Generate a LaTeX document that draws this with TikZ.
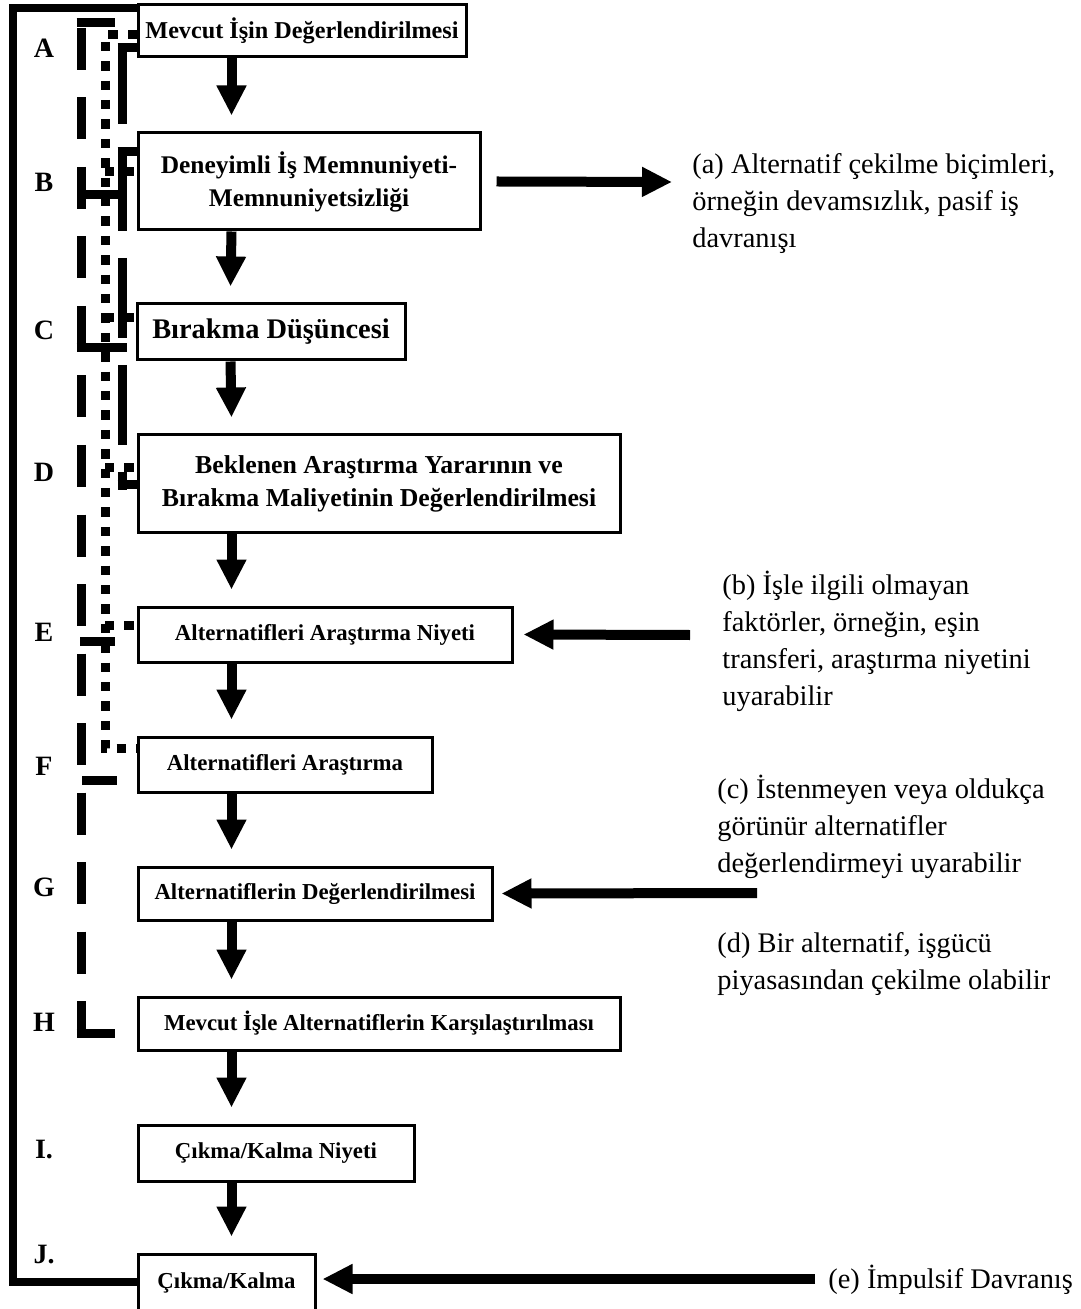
\documentclass[tikz,border=0pt]{standalone}
\usepackage{fontspec}
\setmainfont{Liberation Serif}
\usetikzlibrary{arrows.meta}
\tikzset{
  stagebox/.style={draw=black,line width=1.5pt,inner sep=0pt,align=center},
  boxtext/.style={font=\bfseries\fontsize{#1}{16.5}\selectfont},
  flowarrow/.style={line width=5pt,-{Triangle[width=14pt,length=15pt]}},
  railline/.style={line width=4pt},
  longdash/.style={line width=4.5pt,dash pattern=on 21pt off 13.75pt},
  midrail/.style={line width=4.5pt,dash pattern=on 40pt off 13.5pt},
  dotrail/.style={line width=4.5pt,dash pattern=on 4.7pt off 5pt},
  railtick/.style={line width=4.5pt},
  steplabel/.style={font=\bfseries\fontsize{14}{16}\selectfont,inner sep=0pt},
  sidenote/.style={anchor=north west,inner sep=0pt,align=left,font=\fontsize{14.2}{18.5}\selectfont},
}
\begin{document}
\begin{tikzpicture}[x=0.5pt,y=-0.5pt]
  \useasboundingbox (0,0) rectangle (1080,1309);
  % stages
  \node[stagebox,boxtext=12.1,minimum width=164pt,minimum height=26pt] (mevcut) at (302,31) {Mevcut İşin Değerlendirilmesi};
  \node[stagebox,boxtext=12.7,minimum width=171pt,minimum height=48.5pt] (deneyim) at (309,181.5) {Deneyimli İş Memnuniyeti-\\Memnuniyetsizliği};
  \node[stagebox,boxtext=14.2,minimum width=134pt,minimum height=28pt] (birakma) at (271,332) {Bırakma Düşüncesi};
  \node[stagebox,boxtext=12.9,minimum width=241pt,minimum height=48.5pt] (beklenen) at (379,483.5) {Beklenen Araştırma Yararının ve\\Bırakma Maliyetinin Değerlendirilmesi};
  \node[stagebox,boxtext=11.4,minimum width=187pt,minimum height=27.5pt] (arniyet) at (325,634.5) {Alternatifleri Araştırma Niyeti};
  \node[stagebox,boxtext=11.4,minimum width=147pt,minimum height=27.5pt] (arastir) at (285,764.5) {Alternatifleri Araştırma};
  \node[stagebox,boxtext=11.4,minimum width=177pt,minimum height=26.5pt] (degerlen) at (315,893.5) {Alternatiflerin Değerlendirilmesi};
  \node[stagebox,boxtext=11.4,minimum width=241pt,minimum height=26.5pt] (karsilas) at (379,1023.5) {Mevcut İşle Alternatiflerin Karşılaştırılması};
  \node[stagebox,boxtext=11.4,minimum width=138pt,minimum height=28pt] (kalniyet) at (276,1153) {Çıkma/Kalma Niyeti};
  \node[stagebox,boxtext=11.4,minimum width=88.5pt,minimum height=29pt] (cikma) at (226.5,1283) {Çıkma/Kalma};
  % step letters
  \node[steplabel] (la) at (44,48) {A};
  \node[steplabel] (lb) at (44,182) {B};
  \node[steplabel] (lc) at (44,330) {C};
  \node[steplabel] (ld) at (44,472) {D};
  \node[steplabel] (le) at (44,632) {E};
  \node[steplabel] (lf) at (44,766) {F};
  \node[steplabel] (lg) at (44,887) {G};
  \node[steplabel] (lh) at (44,1022) {H};
  \node[steplabel] (li) at (44,1150) {I.};
  \node[steplabel] (lj) at (44,1255) {J.};
  % main flow
  \foreach \from/\to in {mevcut/deneyim,deneyim/birakma,birakma/beklenen,beklenen/arniyet,arniyet/arastir,arastir/degerlen,degerlen/karsilas,karsilas/kalniyet,kalniyet/cikma}
    \draw[flowarrow] ([xshift=47.5pt]\from.south west) -- ([xshift=47.5pt,yshift=8pt]\to.north west);
  % side notes
  \node[sidenote] (nota) at (692,153) {(a) Alternatif çekilme biçimleri,\\örneğin devamsızlık, pasif iş\\davranışı};
  \node[sidenote] (notb) at (722,571) {(b) İşle ilgili olmayan\\faktörler, örneğin, eşin\\transferi, araştırma niyetini\\uyarabilir};
  \node[sidenote] (notc) at (717,775) {(c) İstenmeyen veya oldukça\\görünür alternatifler\\değerlendirmeyi uyarabilir};
  \node[sidenote] (notd) at (717,932) {(d) Bir alternatif, işgücü\\piyasasından çekilme olabilir};
  \node[sidenote,anchor=west] (note) at (828,1280) {(e) İmpulsif Davranış};
  \coordinate (heada) at (672,182);
  \coordinate (tailb) at (690,635);
  \coordinate (tailc) at (757,893);
  \coordinate (taile) at (815,1279);
  \draw[flowarrow] ([xshift=7.5pt]deneyim.east) -- (heada);
  \draw[flowarrow] (tailb) -- ([xshift=5pt]arniyet.east);
  \draw[flowarrow] (tailc) -- ([xshift=4pt]degerlen.east);
  \draw[flowarrow] (taile) -- ([xshift=3pt]cikma.east |- taile);
  % outer solid rail A..J
  \coordinate (railtop) at (13,8);
  \coordinate (railbot) at (13,1282);
  \draw[railline] (railtop -| mevcut.west) -- (railtop) -- (railbot) -- (railbot -| cikma.west);
  % long dashed rail
  \draw[longdash] (81,28) -- (81,1037);
  \draw[railtick] (76.5,23) -- (115,23);
  \draw[railtick] (81,195) -- (122,195);
  \draw[railtick] (76.5,347.5) -- (126.5,347.5);
  \draw[railtick] (80,641) -- (115,641);
  \draw[railtick] (82,780) -- (117,780);
  \draw[railtick] (76.5,1033) -- (115,1033);
  % middle dashed rail
  \draw[midrail] (122,44) -- (122,490);
  \draw[railtick] (117.5,48) -- (137,48);
  \draw[railtick] (117.5,152) -- (137,152);
  \draw[railtick] (117.5,485) -- (137,485);
  % dotted rail
  \draw[dotrail] (137,35) -- (105,35) -- (105,748) -- (137,748);
  \foreach \y in {172,318,468,625}
    \draw[dotrail] (105,\y) -- (137,\y);
\end{tikzpicture}
\end{document}
